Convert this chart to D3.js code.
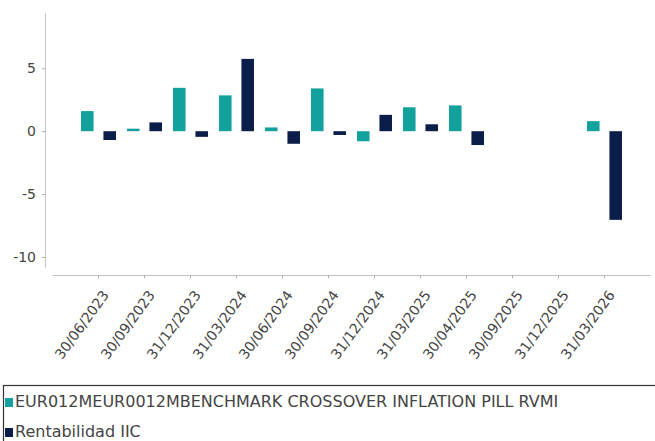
<!DOCTYPE html>
<html>
<head>
<meta charset="utf-8">
<script src="https://cdn.jsdelivr.net/npm/d3@7"></script>
<style>
  html, body { margin: 0; padding: 0; background: #fff; overflow: hidden; }
  svg { display: block; font-family: "DejaVu Sans", sans-serif; }
</style>
</head>
<body>
<div id="chart"></div>
<script>
'use strict';
// data
var dates = ['30/06/2023', '30/09/2023', '31/12/2023', '31/03/2024', '30/06/2024', '30/09/2024',
             '31/12/2024', '31/03/2025', '30/04/2025', '30/09/2025', '31/12/2025', '31/03/2026'];
var benchmark = [1.6, 0.2, 3.45, 2.85, 0.3, 3.4, -0.8, 1.9, 2.05, null, null, 0.8];
var fund = [-0.7, 0.7, -0.45, 5.75, -1.0, -0.3, 1.3, 0.55, -1.1, null, null, -7.05];
var seriesNames = ['EUR012MEUR0012MBENCHMARK CROSSOVER INFLATION PILL RVMI', 'Rentabilidad IIC'];
var yTicks = [-10, -5, 0, 5];

var colors = ['#13a19d', '#0b1e4a'];
var width = 655, height = 441;

var svg = d3.select('#chart')
  .append('svg')
  .attr('width', width)
  .attr('height', height);

// scales
var x = d3.scalePoint()
  .domain(dates)
  .range([52, 650])
  .padding(1);

var x1 = d3.scaleBand()
  .domain([0, 1])
  .range([-17, 18])
  .paddingInner(0.44);

var y = d3.scaleLinear()
  .domain([-10.8, 9.4])
  .range([267, 13]);

// bars
var series = [benchmark, fund];
series.forEach(function(values, s) {
  var rows = dates.map(function(d, i) { return {date: d, value: values[i]}; })
    .filter(function(d) { return d.value !== null; });
  svg.append('g')
    .selectAll('rect')
    .data(rows)
    .enter()
    .append('rect')
    .attr('x', function(d) { return x(d.date) + x1(s); })
    .attr('width', x1.bandwidth())
    .attr('y', function(d) { return y(Math.max(0, d.value)); })
    .attr('height', function(d) { return Math.abs(y(d.value) - y(0)); })
    .style('fill', colors[s]);
});

// y axis
var yAxis = svg.append('g')
  .attr('transform', 'translate(45,0)')
  .call(d3.axisLeft(y).tickValues(yTicks).tickFormat(function(d) { return String(d); })
    .tickSize(3).tickSizeOuter(0).tickPadding(6));
yAxis.select('.domain').attr('stroke', '#c4c4c4');
yAxis.selectAll('.tick line').attr('stroke', '#aaa');
yAxis.selectAll('.tick text')
  .style('font-size', '14px')
  .style('font-family', 'DejaVu Sans')
  .style('fill', '#444');

// x axis
var xAxis = svg.append('g')
  .attr('transform', 'translate(0,275)')
  .call(d3.axisBottom(x).tickSize(3).tickSizeOuter(0));
xAxis.select('.domain').attr('stroke', '#c4c4c4');
xAxis.selectAll('.tick line').attr('stroke', '#aaa');
xAxis.selectAll('.tick text')
  .attr('x', 0)
  .attr('y', 0)
  .attr('dy', 0)
  .attr('text-anchor', 'end')
  .attr('transform', 'translate(11,20) rotate(-54)')
  .style('font-size', '14px')
  .style('font-family', 'DejaVu Sans')
  .style('fill', '#444');

// legend
var legend = svg.append('g');
legend.append('rect')
  .attr('x', 3.5)
  .attr('y', 385.5)
  .attr('width', 700)
  .attr('height', 100)
  .style('fill', 'none')
  .style('stroke', '#333')
  .style('stroke-width', 1.2);

var item = legend.selectAll('.legend')
  .data(seriesNames)
  .enter()
  .append('g')
  .attr('class', 'legend')
  .attr('transform', function(d, i) { return 'translate(0,' + (i * 30) + ')'; });
item.append('rect')
  .attr('x', 5)
  .attr('y', 398)
  .attr('width', 8)
  .attr('height', 9)
  .style('fill', function(d, i) { return colors[i]; });
item.append('text')
  .attr('x', 15)
  .attr('y', 407)
  .text(function(d) { return d; })
  .style('font-size', '16px')
  .style('fill', '#444');
</script>
</body>
</html>
